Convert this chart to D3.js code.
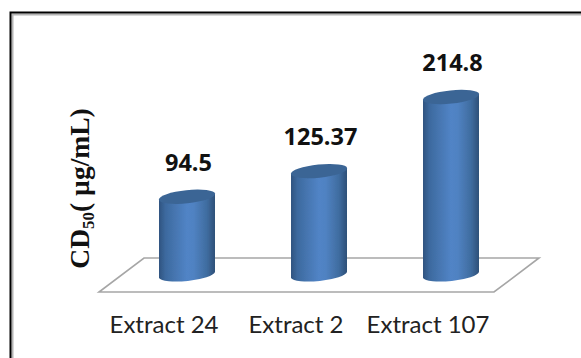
<!DOCTYPE html>
<html><head><meta charset="utf-8">
<script src="https://cdnjs.cloudflare.com/ajax/libs/d3/7.8.5/d3.min.js"></script>
<style>html,body{margin:0;padding:0;background:#fff}svg{display:block}</style></head>
<body><svg id="c" width="581" height="358"></svg>
<script>
const categories = ["Extract 24", "Extract 2", "Extract 107"];
const values = [94.5, 125.37, 214.8];
const valueLabels = ["94.5", "125.37", "214.8"];
const yLabel = "CD";

const svg = d3.select("#c");
const defs = svg.append("defs");
const g = defs.append("linearGradient").attr("id","body").attr("x1",0).attr("x2",1).attr("y1",0).attr("y2",0);
[[0,"#2f5480"],[0.12,"#3d6a9f"],[0.5,"#5184c6"],[0.62,"#5082c2"],[0.86,"#3f6c9f"],[1,"#2e5078"]]
  .forEach(s=>g.append("stop").attr("offset",s[0]).attr("stop-color",s[1]));
const f = defs.append("filter").attr("id","soft").attr("x","-20%").attr("y","-20%").attr("width","140%").attr("height","140%");
f.append("feGaussianBlur").attr("stdDeviation",0.45);

// frame
svg.append("path").attr("d","M12.5,358V14.5H581").attr("fill","none").attr("stroke","#b4b4b4").attr("stroke-width",2);
svg.append("path").attr("d","M10.5,358V12.5H581").attr("fill","none").attr("stroke","#000").attr("stroke-width",2);

const x = d3.scaleBand().domain(categories).range([121,517]);
const y = d3.scaleLinear().domain([0,214.8]).range([275,97]);
const rx = 28.3, ry = 6.6, rot = -6, halfRise = 3;

// floor
const floorY0 = y(0)+17, floorY1 = y(0)-17;
const floorX = d3.scaleLinear().domain([0,1]).range([99,494]);
const skew = 45;
svg.append("path")
  .attr("d", d3.line()([[floorX(0),floorY0],[floorX(1),floorY0],[floorX(1)+skew,floorY1],[floorX(0)+skew,floorY1]])+"Z")
  .attr("fill","none").attr("stroke","#a6a6a6").attr("stroke-width",1.6);

// cylinders
const bars = svg.append("g").selectAll("g").data(values).join("g").attr("filter","url(#soft)");
const cx = (d,i)=>x(categories[i])+x.bandwidth()/2;
bars.append("path").attr("fill","url(#body)").attr("d",(d,i)=>{
  const l=cx(d,i)-rx+.3, r=cx(d,i)+rx-.3, t=y(d), b=y(0);
  return `M${l},${t+halfRise}L${l},${b+halfRise}A${rx},${ry} ${rot} 0 0 ${r},${b-halfRise}L${r},${t-halfRise}Z`;
});
bars.append("ellipse").attr("fill","#3b6595")
  .attr("rx",rx).attr("ry",ry)
  .attr("transform",(d,i)=>`translate(${cx(d,i)},${y(d)}) rotate(${rot})`);

// value labels
svg.append("g").selectAll("text").data(values).join("text")
  .attr("x",(d,i)=>cx(d,i)+1.5).attr("y",d=>y(d)-26)
  .attr("text-anchor","middle").attr("font-family","'Open Sans',sans-serif").attr("font-weight",700)
  .attr("font-size",23.5).attr("fill","#111").text((d,i)=>valueLabels[i]);

// x axis
const axis = svg.append("g").attr("transform","translate(-23,333)")
  .call(d3.axisBottom(x).tickSize(0).tickPadding(0));
axis.select(".domain").remove();
axis.selectAll("text").attr("y",0).attr("dy",0).attr("font-family","Lato,sans-serif").attr("font-size",24).attr("fill","#222");

// y label
const t = svg.append("text").attr("transform","translate(89,188.5) rotate(-90)").attr("text-anchor","middle")
  .attr("font-family","'Liberation Serif',serif").attr("font-weight",700).attr("font-size",27.5).attr("fill","#111");
t.append("tspan").text(yLabel);
t.append("tspan").attr("font-size",17).attr("dy",5).text("50");
t.append("tspan").attr("dy",-5).text("( µg/mL)");
</script></body></html>
